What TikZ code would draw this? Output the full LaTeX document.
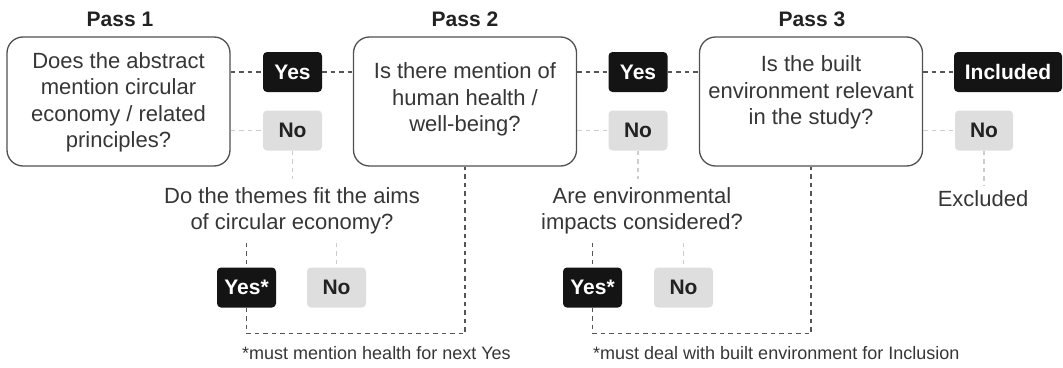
\documentclass[tikz,border=0pt]{standalone}
\usepackage{fontspec}
\setmainfont{Liberation Sans}
\usetikzlibrary{positioning}
\definecolor{boxline}{HTML}{505050}
\definecolor{textgray}{HTML}{363636}
\definecolor{titlegray}{HTML}{222222}
\definecolor{yesfill}{HTML}{141414}
\definecolor{nofill}{HTML}{DEDEDE}
\definecolor{yesdash}{HTML}{555555}
\definecolor{nodash}{HTML}{CCCCCC}

\begin{document}
\begin{tikzpicture}[x=1pt,y=-1pt,
 question/.style={draw=boxline,line width=1.3pt,rounded corners=16pt,fill=white,minimum width=223pt,minimum height=129pt,inner sep=0pt},
 qtext/.style={align=center,text=textgray,font=\fontsize{22}{26.5}\selectfont,inner sep=2pt},
 subq/.style={qtext,inner sep=8pt},
 yesbox/.style={fill=yesfill,text=white,rounded corners=4pt,minimum width=59pt,minimum height=40pt,inner sep=0pt,font=\bfseries\fontsize{21}{25}\selectfont},
 nobox/.style={yesbox,fill=nofill,text=titlegray},
 title/.style={font=\bfseries\fontsize{21}{25}\selectfont,text=titlegray},
 yesline/.style={draw=yesdash,line width=1.1pt,dash pattern=on 4.5pt off 4pt},
 noline/.style={draw=nodash,line width=1.1pt,dash pattern=on 4.5pt off 4pt},
 note/.style={font=\fontsize{18}{21}\selectfont,text=textgray,anchor=west,inner sep=0pt}]

\useasboundingbox (0,0) rectangle (1063,367);

% passes
\node[title] (p1) at (120,19) {Pass 1};
\node[title] (p2) at (465,19) {Pass 2};
\node[title] (p3) at (812,19) {Pass 3};

\node[question] (q1) at (118.5,101.5) {};
\node[question] (q2) at (465,101.5) {};
\node[question] (q3) at (811,101.5) {};
\node[qtext] (q1t) at ([yshift=-1pt]q1.center) {Does the abstract\\mention circular\\economy / related\\principles?};
\node[qtext] (q2t) at ([yshift=2pt]q2.center) {Is there mention of\\human health /\\well-being?};
\node[qtext] (q3t) at ([yshift=9pt]q3.center) {Is the built\\environment relevant\\in the study?};

\node[yesbox] (y1) at (292.5,72) {Yes};
\node[nobox] (n1) at (292.5,130.5) {No};
\node[yesbox] (y2) at (638,72) {Yes};
\node[nobox] (n2) at (638,130.5) {No};
\node[yesbox,minimum width=108pt] (inc) at (1008,72) {Included};
\node[nobox,minimum width=58pt] (n3) at (984,130.5) {No};
\node[qtext,inner sep=6pt] (exc) at (983,199) {Excluded};

% second look at the rejected ones
\node[subq] (a1) at (292,211) {Do the themes fit the aims\\of circular economy?};
\node[subq] (a2) at (642,211) {Are environmental\\impacts considered?};
\node[yesbox] (ys1) at (246.5,287.5) {Yes*};
\node[nobox] (nb1) at (336.5,287.5) {No};
\node[yesbox] (ys2) at (592.5,287.5) {Yes*};
\node[nobox] (nb2) at (683.5,287.5) {No};
\coordinate (j1) at ([yshift=-26pt]ys1.south);
\coordinate (j2) at ([yshift=-26pt]ys2.south);

\node[note] (f1) at (242,353) {*must mention health for next Yes};
\node[note] (f2) at (593,353) {*must deal with built environment for Inclusion};

% links
\draw[yesline] (y1.west -| q1.east) -- (y1.west);
\draw[yesline] (y1.east) -- (y1.east -| q2.west);
\draw[yesline] (y2.west -| q2.east) -- (y2.west);
\draw[yesline] (y2.east) -- (y2.east -| q3.west);
\draw[yesline] (inc.west -| q3.east) -- (inc.west);
\draw[noline] (n1.west -| q1.east) -- (n1.west);
\draw[noline] (n2.west -| q2.east) -- (n2.west);
\draw[noline] (n3.west -| q3.east) -- (n3.west);
\draw[noline] (n1.south) -- (n1.south |- a1.north);
\draw[noline] (n2.south) -- (n2.south |- a2.north);
\draw[noline] (n3.south) -- (exc.north -| n3.south);
\draw[yesline] (ys1.north |- a1.south) -- (ys1.north);
\draw[noline] (nb1.north |- a1.south) -- (nb1.north);
\draw[yesline] (ys2.north |- a2.south) -- (ys2.north);
\draw[noline] (nb2.north |- a2.south) -- (nb2.north);
\draw[yesline] (ys1.south) -- (j1) -| (q2.south);
\draw[yesline] (ys2.south) -- (j2) -| (q3.south);
\end{tikzpicture}
\end{document}
